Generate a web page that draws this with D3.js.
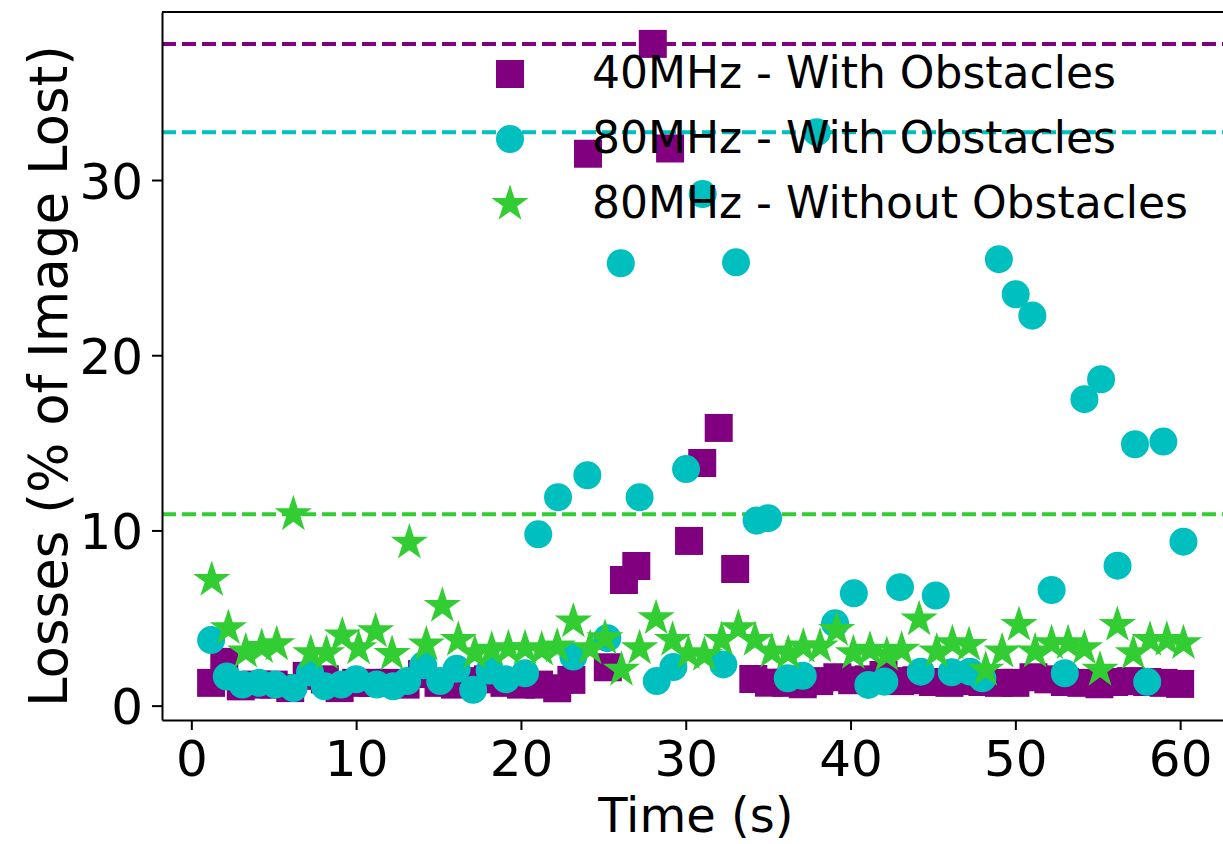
<!DOCTYPE html>
<html>
<head>
<meta charset="utf-8">
<script src="https://cdn.jsdelivr.net/npm/d3@7"></script>
<style>
  body { margin: 0; background: #ffffff; }
  svg text { font-family: "DejaVu Sans", sans-serif; fill: #000; }
</style>
</head>
<body>
<div id="chart-container"></div>
<script>
// 40MHz - With Obstacles
var time40Obs = [1.2, 2.0, 3.0, 4.0, 5.0, 6.0, 7.0, 8.1, 9.0, 10.0,
    11.0, 12.0, 13.0, 14.0, 15.0, 16.0, 17.0, 18.0, 19.0, 20.0,
    21.1, 22.2, 23.06, 24.07, 25.27, 26.25, 27.0, 28.0, 29.05, 30.2,
    31.0, 32.0, 33.0, 34.1, 35.05, 36.1, 37.1, 38.1, 39.2, 40.1,
    41.1, 42.0, 43.0, 44.0, 45.0, 46.0, 47.0, 48.0, 49.0, 50.0,
    51.1, 52.0, 53.0, 54.0, 55.1, 56.0, 57.0, 58.0, 59.0, 60.0];
var loss40Obs = [1.3, 2.5, 1.1, 1.2, 1.2, 1.0, 1.7, 1.5, 1.0, 1.3,
    1.3, 1.3, 1.2, 1.8, 1.3, 1.2, 1.4, 1.5, 1.3, 1.2,
    1.2, 0.99, 1.47, 31.5, 2.19, 7.17, 7.97, 37.77, 31.8, 9.4,
    13.85, 15.85, 7.8, 1.52, 1.31, 1.3, 1.22, 1.4, 1.62, 1.45,
    1.5, 1.75, 1.4, 1.45, 1.35, 1.3, 1.4, 1.35, 1.3, 1.3,
    1.62, 1.5, 1.35, 1.3, 1.22, 1.35, 1.4, 1.35, 1.3, 1.24];

// 80MHz - With Obstacles
var time80Obs = [1.2, 2.15, 3.1, 4.1, 5.1, 6.2, 7.2, 8.1, 9.1, 10.0,
    11.25, 12.25, 13.1, 14.07, 15.1, 16.1, 17.1, 18.1, 19.1, 20.25,
    21.05, 22.25, 23.18, 24.03, 25.24, 26.06, 27.2, 28.24, 29.25, 30.02,
    31.03, 32.28, 33.05, 34.3, 35.0, 36.19, 37.1, 37.95, 39.06, 40.2,
    41.08, 42.05, 43.0, 44.26, 45.17, 46.14, 47.25, 48.0, 49.0, 50.02,
    51.03, 52.2, 53.0, 54.19, 55.2, 56.2, 57.26, 58.0, 58.98, 60.2];
var loss80Obs = [3.74, 1.66, 1.2, 1.3, 1.2, 1.0, 1.9, 1.1, 1.2, 1.5,
    1.2, 1.1, 1.4, 2.3, 1.4, 2.1, 0.9, 2.0, 1.5, 1.85,
    9.78, 11.9, 2.8, 13.15, 3.85, 25.25, 11.9, 1.4, 2.2, 13.5,
    29.2, 2.35, 25.3, 10.56, 10.7, 1.56, 1.7, 32.73, 4.7, 6.41,
    1.18, 1.37, 6.76, 1.94, 6.28, 1.9, 1.94, 1.56, 25.48, 23.48,
    22.26, 6.6, 1.85, 17.49, 18.63, 7.99, 14.92, 1.36, 15.07, 9.36];

// 80MHz - Without Obstacles
var time80Free = [1.24, 2.25, 3.3, 4.27, 5.18, 6.19, 7.25, 8.2, 9.16, 10.15,
    11.18, 12.18, 13.23, 14.26, 15.23, 16.2, 17.2, 18.23, 19.24, 20.25,
    21.26, 22.2, 23.18, 24.2, 25.1, 26.1, 27.2, 28.2, 29.2, 30.16,
    31.13, 32.18, 33.19, 34.2, 35.22, 36.22, 37.13, 38.15, 39.16, 40.17,
    41.18, 42.2, 43.1, 44.16, 45.23, 46.18, 47.19, 48.2, 49.2, 50.22,
    51.2, 52.2, 53.2, 54.19, 55.14, 56.19, 57.16, 58.17, 59.19, 60.2];
var loss80Free = [7.17, 4.42, 3.08, 3.34, 3.5, 10.92, 2.99, 2.99, 4.0, 3.27,
    4.24, 2.94, 9.3, 3.48, 5.69, 3.75, 2.99, 3.18, 3.27, 3.27,
    3.2, 3.37, 4.8, 3.27, 3.85, 2.04, 3.27, 4.99, 3.75, 2.99,
    2.89, 3.75, 4.42, 3.75, 3.08, 2.99, 3.37, 3.37, 4.32, 2.99,
    3.18, 2.89, 3.18, 4.92, 3.08, 3.56, 3.46, 2.04, 3.08, 4.6,
    3.08, 3.56, 3.56, 3.27, 2.04, 4.6, 2.99, 3.75, 3.75, 3.56];

var seriesNames = ["40MHz - With Obstacles", "80MHz - With Obstacles", "80MHz - Without Obstacles"];
var seriesColors = ["#800080", "#00bfbf", "#32cd32"];

var xTicks = [0, 10, 20, 30, 40, 50, 60];
var yTicks = [0, 10, 20, 30];

function drawChart() {
    // build the series list (drawn in this order: squares, circles, stars)
    var series = [
        { name: seriesNames[0], color: seriesColors[0], shape: d3.symbolSquare, size: 784,
          points: time40Obs.map(function (t, i) { return { x: t, y: loss40Obs[i] }; }) },
        { name: seriesNames[1], color: seriesColors[1], shape: d3.symbolCircle, size: 616,
          points: time80Obs.map(function (t, i) { return { x: t, y: loss80Obs[i] }; }) },
        { name: seriesNames[2], color: seriesColors[2], shape: d3.symbolStar, size: 430,
          points: time80Free.map(function (t, i) { return { x: t, y: loss80Free[i] }; }) }
    ];

    var width = 1223;
    var height = 844;

    // plot area (right spine sits just past the window edge)
    var plotLeft = 162, plotRight = 1229.6, plotTop = 12, plotBottom = 720;

    var svg = d3.select("#chart-container")
        .append("svg")
        .attr("width", width)
        .attr("height", height);

    svg.append("rect")
        .attr("width", width)
        .attr("height", height)
        .attr("fill", "#ffffff");

    var xScale = d3.scaleLinear()
        .domain([-1.78, 63.0])
        .range([plotLeft, plotRight]);

    var yScale = d3.scaleLinear()
        .domain([-0.82, 39.59])
        .range([plotBottom, plotTop]);

    var plot = svg.append("g");

    // dashed lines at each series maximum
    series.forEach(function (s) {
        var maxLoss = d3.max(s.points, function (d) { return d.y; });
        plot.append("line")
            .attr("x1", plotLeft)
            .attr("x2", plotRight)
            .attr("y1", yScale(maxLoss))
            .attr("y2", yScale(maxLoss))
            .attr("stroke", s.color)
            .attr("stroke-width", 4)
            .attr("stroke-dasharray", "14,6");
    });

    // markers
    series.forEach(function (s) {
        var symbol = d3.symbol().type(s.shape).size(s.size);
        plot.append("g")
            .selectAll("path")
            .data(s.points)
            .enter()
            .append("path")
            .attr("transform", function (d) {
                return "translate(" + xScale(d.x) + "," + yScale(d.y) + ")";
            })
            .attr("d", symbol)
            .attr("fill", s.color);
    });

    // X axis
    var xAxis = svg.append("g")
        .attr("transform", "translate(0," + plotBottom + ")")
        .call(d3.axisBottom(xScale).tickValues(xTicks).tickSize(10).tickSizeOuter(0).tickPadding(10));

    // Y axis
    var yAxis = svg.append("g")
        .attr("transform", "translate(" + plotLeft + ",0)")
        .call(d3.axisLeft(yScale).tickValues(yTicks).tickSize(10).tickSizeOuter(0).tickPadding(9));

    [xAxis, yAxis].forEach(function (ax) {
        ax.selectAll("path").attr("stroke", "#000").attr("stroke-width", 2);
        ax.selectAll("line").attr("stroke", "#000").attr("stroke-width", 2);
        ax.selectAll("text")
            .style("font-family", "DejaVu Sans, sans-serif")
            .style("font-size", "50px")
            .attr("fill", "#000");
    });
    yAxis.selectAll("text").attr("dy", "0.36em");

    // top and right spines
    svg.append("line")
        .attr("x1", plotLeft).attr("x2", plotRight)
        .attr("y1", plotTop).attr("y2", plotTop)
        .attr("stroke", "#000").attr("stroke-width", 2);
    svg.append("line")
        .attr("x1", plotRight).attr("x2", plotRight)
        .attr("y1", plotTop).attr("y2", plotBottom)
        .attr("stroke", "#000").attr("stroke-width", 2);

    // X axis label
    svg.append("text")
        .attr("x", (plotLeft + plotRight) / 2)
        .attr("y", 832)
        .attr("text-anchor", "middle")
        .style("font-size", "48px")
        .text("Time (s)");

    // Y axis label
    svg.append("text")
        .attr("transform", "translate(67,376) rotate(-90)")
        .attr("text-anchor", "middle")
        .style("font-size", "53px")
        .text("Losses (% of Image Lost)");

    // legend, no frame
    var legend = svg.append("g");
    series.forEach(function (s, i) {
        var rowY = 74 + i * 65;
        legend.append("path")
            .attr("transform", "translate(510," + rowY + ")")
            .attr("d", d3.symbol().type(s.shape).size(s.size))
            .attr("fill", s.color);
        legend.append("text")
            .attr("x", 592)
            .attr("y", rowY + 14)
            .style("font-size", "44px")
            .text(s.name);
    });
}

drawChart();
</script>
</body>
</html>
